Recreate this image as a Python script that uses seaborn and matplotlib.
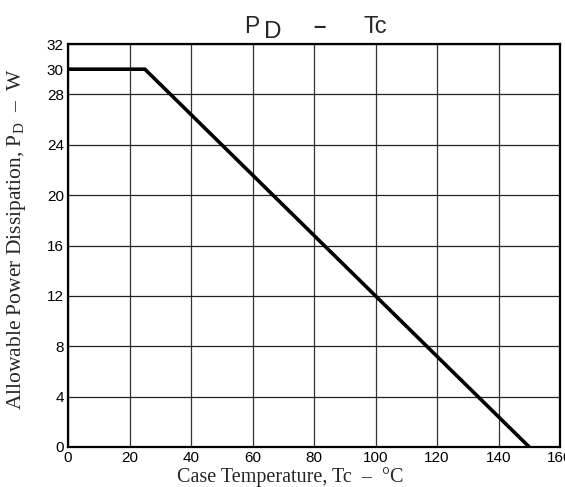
import matplotlib
matplotlib.use('Agg')
import matplotlib.pyplot as plt
import seaborn as sns
import pandas as pd

# derating curve: case temperature (C) vs allowable power dissipation (W)
temp_c = [0, 25, 150]
power_w = [30, 30, 0]
x_ticks = [0, 20, 40, 60, 80, 100, 120, 140, 160]
y_ticks = [0, 4, 8, 12, 16, 20, 24, 28, 30, 32]
y_grid = [0, 4, 8, 12, 16, 20, 24, 28, 32]

sns.set_style('white')
plt.rcParams['font.family'] = ['Liberation Sans', 'DejaVu Sans']
plt.rcParams['mathtext.fontset'] = 'custom'
plt.rcParams['mathtext.rm'] = 'Liberation Serif'

df = pd.DataFrame({'Tc': temp_c, 'PD': power_w})

fig = plt.figure(figsize=(5.65, 4.87), dpi=100)
ax = fig.add_axes([68 / 565, 40 / 487, 492 / 565, 403 / 487])

for xv in x_ticks:
    ax.axvline(xv, color='#333333', lw=0.9, zorder=1)
for yv in y_grid:
    ax.axhline(yv, color='#222222', lw=0.9, zorder=1)

sns.lineplot(data=df, x='Tc', y='PD', color='black', lw=2.6, ax=ax, zorder=3)

ax.set_xlim(0, 160)
ax.set_ylim(0, 32)
ax.set_xticks(x_ticks)
ax.set_yticks(y_ticks)
ax.tick_params(axis='both', length=2, width=1, pad=1, labelsize=11, colors='black')
for s in ax.spines.values():
    s.set_visible(True)
    s.set_color('black')
    s.set_linewidth(1.6)

serif = ['Liberation Serif', 'DejaVu Serif']
ax.set_xlabel('Case Temperature, Tc  \u2013  \u00b0C', family=serif, fontsize=14.5)
ax.set_ylabel('Allowable Power Dissipation, P$_{\\rm D}$  \u2013  W', family=serif, fontsize=15.5)
ax.xaxis.set_label_coords(0.451, -0.05)
ax.yaxis.set_label_coords(-0.081, 0.516)

# title pieces with the large subscript D
fig.text(251.5 / 565, 1 - 33 / 487, 'P', fontsize=16.5, ha='center', va='baseline')
fig.text(272.5 / 565, 1 - 38 / 487, 'D', fontsize=17.5, ha='center', va='baseline')
fig.text(320 / 565, 1 - 27 / 487, '\u2013', fontsize=16, ha='center', va='center', fontweight='bold')
fig.text(375 / 565, 1 - 33 / 487, 'Tc', fontsize=17, ha='center', va='baseline')

fig.savefig('out.png', dpi=100)
